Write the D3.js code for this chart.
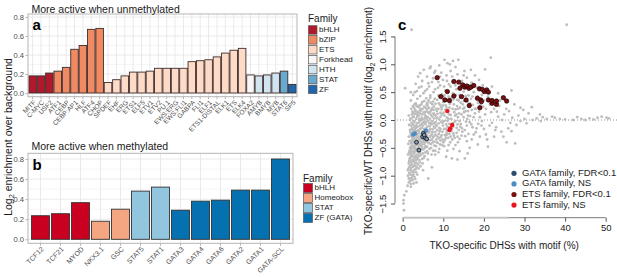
<!DOCTYPE html>
<html><head><meta charset="utf-8">
<script src="https://cdn.jsdelivr.net/npm/d3@7/dist/d3.min.js"></script>
<style>body{margin:0;background:#fff}svg{display:block;font-family:"Liberation Sans",Arial,sans-serif}</style>
</head><body><svg id="c" width="617" height="277"></svg>
<script>
// ---------- DATA ----------
const catsA = ["MITF","C-MYC","USF2","ATF1","CEBP","CEBP:AP1","HLF","ATF4","CHOP","SPDEF","EHF","ERG","ETS1","ELF5","ETV1","ETV2","PU.1","EWS:ERG","EWS:FLI1","GABPA","FLI1","ELF1","ETS1-DISTAL","ELK1","ETS","ELK4","FOXA2","AMYB","BMYB","MYB","STAT6","SP5"];
const valsA = [0.18,0.18,0.21,0.23,0.27,0.46,0.50,0.67,0.68,0.11,0.14,0.18,0.22,0.22,0.23,0.26,0.26,0.26,0.26,0.33,0.34,0.35,0.38,0.42,0.45,0.47,0.19,0.18,0.19,0.21,0.23,0.09];
const famA = ["bHLH","bHLH","bHLH","bZIP","bZIP","bZIP","bZIP","bZIP","bZIP","ETS","ETS","ETS","ETS","ETS","ETS","ETS","ETS","ETS","ETS","ETS","ETS","ETS","ETS","ETS","ETS","ETS","Forkhead","HTH","HTH","HTH","STAT","ZF"];
const familiesA = ["bHLH","bZIP","ETS","Forkhead","HTH","STAT","ZF"];
const coloursA = ["#b2182b","#ef8a62","#fddbc7","#f7f7f7","#d1e5f0","#67a9cf","#2166ac"];

const catsB = ["TCF12","TCF21","MYOD","NKX3.1","GSC","STAT5","STAT1","GATA3","GATA4","GATA6","GATA2","GATA1","GATA-SCL"];
const valsB = [0.235,0.255,0.365,0.18,0.30,0.48,0.52,0.29,0.38,0.39,0.49,0.49,0.80];
const famB = ["bHLH","bHLH","bHLH","Homeobox","Homeobox","STAT","STAT","ZF (GATA)","ZF (GATA)","ZF (GATA)","ZF (GATA)","ZF (GATA)","ZF (GATA)"];
const familiesB = ["bHLH","Homeobox","STAT","ZF (GATA)"];
const coloursB = ["#ca0020","#f4a582","#92c5de","#0571b0"];

const barTicks = [0,0.2,0.4,0.6,0.8];
const scatterXTicks = [0,10,20,30,40,50];
const scatterYTicks = [-1.5,-1,-0.5,0,0.5,1,1.5];

const grayPts = [
[0.3,-1.62],[0.2,-1.50],[0.2,-1.44],[0.4,-1.35],[0.9,-1.28],
[1.2,-1.18],[1.5,-1.12],[2.0,-1.15],[1.8,-1.05],[2.4,-1.08],[2.9,-1.02],[1.3,-1.0],[6.3,-1.05],[3.4,-1.12],[2.6,-0.98],
[1.6,-0.95],[2.2,-0.93],[2.8,-0.9],[3.3,-0.94],[3.9,-0.87],[1.4,-0.88],[2.5,-0.84],[3.1,-0.82],[4.4,-0.83],[1.9,-0.81],[5.0,-0.9],[7.2,-0.85],
[1.5,-0.78],[2.1,-0.76],[2.7,-0.74],[3.4,-0.77],[4.1,-0.72],[4.8,-0.7],[1.8,-0.68],[2.4,-0.66],[3.0,-0.64],[3.7,-0.67],[4.5,-0.63],[5.4,-0.65],[6.2,-0.71],[10.7,-0.66],[12.1,-0.69],[13.5,-0.71],[15.3,-0.69],[8.0,-0.62],[1.3,-0.62],
[1.6,-0.58],[2.2,-0.56],[2.9,-0.59],[3.5,-0.55],[4.3,-0.57],[5.1,-0.53],[6.0,-0.56],[7.0,-0.5],[2.0,-0.48],[2.6,-0.5],[3.2,-0.46],[3.9,-0.48],[4.7,-0.44],[5.6,-0.47],[6.5,-0.42],[7.8,-0.46],[9.0,-0.52],[11.7,-0.40],[13.0,-0.45],[16.5,-0.50],[1.4,-0.43],[8.6,-0.41],[10.2,-0.47],[25.6,-0.40],[27.7,-0.42],[18.5,-0.44],[21.0,-0.48],
[1.7,-0.38],[2.3,-0.36],[2.8,-0.33],[3.6,-0.37],[4.4,-0.35],[5.0,-0.38],[6.1,-0.33],[6.8,-0.36],[7.5,-0.31],[8.3,-0.35],[9.4,-0.3],[10.3,-0.37],[11.2,-0.32],[12.6,-0.28],[14.0,-0.34],[15.4,-0.29],[17.0,-0.35],[19.0,-0.30],[2.0,-0.26],[2.6,-0.22],[3.3,-0.28],[4.1,-0.24],[4.8,-0.21],[5.5,-0.27],[6.4,-0.23],[7.2,-0.26],[8.0,-0.22],[8.9,-0.25],[9.8,-0.21],[10.8,-0.24],[12.0,-0.2],[13.3,-0.23],[14.7,-0.21],[16.2,-0.25],[18.0,-0.22],[20.5,-0.26],[22.5,-0.3],[24.3,-0.21],[1.5,-0.3],
[1.8,-0.18],[2.4,-0.14],[3.0,-0.17],[3.7,-0.12],[4.3,-0.16],[5.0,-0.1],[5.8,-0.15],[6.6,-0.11],[7.4,-0.17],[8.2,-0.09],[9.0,-0.14],[9.9,-0.1],[10.6,-0.16],[11.5,-0.07],[12.4,-0.12],[13.5,-0.08],[14.6,-0.15],[15.8,-0.1],[17.2,-0.13],[18.6,-0.07],[20.0,-0.16],[21.4,-0.1],[23.0,-0.13],[26.0,-0.15],[28.0,-0.09],[30.5,-0.06],[2.2,-0.05],[2.9,-0.03],[3.5,-0.06],[4.2,-0.02],[4.9,-0.05],[5.7,-0.03],[6.5,-0.06],[7.3,-0.02],[8.1,-0.04],[9.5,-0.03],[11.0,-0.02],[12.8,-0.03],[16.5,-0.04],[19.5,-0.02],[1.6,-0.09],
[2.0,0.03],[2.7,0.06],[3.3,0.02],[4.0,0.08],[4.7,0.04],[5.4,0.1],[6.2,0.05],[7.0,0.09],[7.8,0.03],[8.6,0.11],[9.3,0.06],[10.1,0.13],[10.9,0.04],[11.8,0.09],[12.7,0.14],[13.6,0.05],[14.5,0.1],[15.5,0.16],[16.6,0.07],[17.8,0.12],[19.0,0.05],[20.3,0.1],[21.8,0.14],[23.5,0.06],[25.0,0.1],[27.0,0.04],[29.7,0.18],[31.8,0.23],[33.0,0.03],[34.5,0.05],[35.5,0.02],[36.8,0.06],[38.7,0.02],[42.0,0.0],[44.0,0.02],[46.0,0.03],[48.0,0.04],[50.2,0.04],[50.8,0.03],[2.4,0.15],[3.1,0.18],[3.8,0.13],[4.5,0.17],[5.2,0.14],[6.0,0.19],[6.8,0.15],[7.6,0.18],[8.4,0.16],[9.6,0.19],[1.5,0.08],[31.0,0.12],[33.8,0.1],[40.0,0.01],[26.2,0.16],
[2.5,0.25],[3.2,0.3],[3.9,0.23],[4.6,0.28],[5.3,0.34],[6.1,0.26],[6.9,0.31],[7.7,0.24],[8.5,0.36],[9.2,0.27],[10.0,0.32],[10.8,0.22],[11.6,0.29],[12.5,0.37],[13.4,0.25],[14.3,0.31],[15.2,0.22],[16.0,0.33],[17.3,0.27],[18.5,0.31],[19.8,0.24],[21.5,0.28],[23.8,0.25],[2.0,0.35],[3.6,0.38],[5.8,0.39],[7.2,0.21],[9.9,0.38],[29.0,0.22],
[2.6,0.45],[3.5,0.52],[4.3,0.43],[5.1,0.48],[6.0,0.55],[6.8,0.44],[7.6,0.5],[8.7,0.58],[9.6,0.46],[10.5,0.53],[11.3,0.42],[12.4,0.48],[13.2,0.55],[14.0,0.45],[15.0,0.51],[16.2,0.44],[17.5,0.5],[19.5,0.45],[21.0,0.42],[0.6,0.57],[26.8,0.53],[2.0,0.5],[4.0,0.58],
[3.2,0.65],[4.8,0.7],[6.3,0.66],[7.5,0.75],[8.8,0.68],[9.9,0.72],[11.4,0.64],[12.2,0.78],[13.0,0.62],[14.6,0.7],[15.8,0.76],[17.0,0.67],[18.8,0.72],[3.8,0.78],[10.8,0.8],
[4.3,0.84],[6.7,0.93],[6.9,0.96],[8.0,0.88],[11.0,1.02],[11.6,1.0],[12.4,1.06],[13.7,1.08],[20.3,0.91],[21.7,1.12],[9.5,0.85],[15.2,0.88],[2.2,1.62],[40.4,1.71],
[2.1,-0.42],[2.5,-0.4],[3.0,-0.42],[3.4,-0.32],[3.8,-0.41],[4.6,-0.4],[5.3,-0.43],[5.9,-0.39],[2.2,-0.3],[2.7,-0.28],[3.1,-0.24],[3.9,-0.3],[4.5,-0.29],[5.2,-0.31],[5.8,-0.22],[6.9,-0.28],[7.7,-0.39],[2.5,-0.18],[3.3,-0.1],[4.0,-0.2],[4.6,-0.08],[5.4,-0.19],[6.2,-0.19],[6.9,-0.05],[7.7,-0.12],[8.5,-0.18],[2.3,0.1],[3.0,0.11],[3.6,0.06],[4.3,0.12],[5.0,0.01],[5.7,0.07],[6.5,0.12],[7.3,0.06],[8.1,0.08],[9.0,0.01],[2.8,0.22],[4.2,0.26],[5.6,0.22],[6.4,0.35],[8.1,0.29],[9.5,0.23],[11.2,0.17],[12.0,0.02],[13.0,0.19],[14.0,-0.02],[15.0,0.05],[11.0,-0.12],[12.0,-0.17],[13.8,-0.18],[10.4,-0.27],[1.9,-0.6],[2.4,-0.62],[3.1,-0.55],[3.6,-0.62],[4.0,-0.52],[2.2,-0.72],[2.9,-0.69],[3.3,-0.72],[1.8,-0.5],[1.9,-0.38],[2.1,-0.86],[2.5,-1.0],[3.0,-0.77],[4.0,-0.65],[5.0,-0.6],[6.0,-0.48],[7.0,-0.43],[8.0,-0.55],[9.7,-0.45],[11.0,-0.55],[12.5,-0.52],[14.0,-0.56],[16.0,-0.6],[10.0,0.42],[11.8,0.6],[13.8,0.35],[16.8,0.38],[18.0,0.2],[20.0,0.35],[22.5,0.2],[24.5,0.0],[26.5,-0.05],[28.5,0.08],[30.0,0.02],[32.0,0.0],
[1.7,-0.7],[2.0,-0.64],[2.3,-0.8],[2.6,-0.58],[2.8,-0.82],[3.2,-0.66],[3.5,-0.85],[3.8,-0.58],[4.2,-0.76],[4.6,-0.52],[5.2,-0.68],[5.6,-0.58],
[1.7,-0.55],[2.1,-0.52],[2.4,-0.46],[2.7,-0.39],[3.0,-0.5],[3.3,-0.36],[3.7,-0.44],[4.1,-0.38],[4.4,-0.46],[4.9,-0.34],[5.4,-0.36],[5.7,-0.3],
[1.9,-0.22],[2.2,-0.16],[2.6,-0.08],[2.9,-0.12],[3.2,-0.2],[3.6,-0.26],[3.9,-0.05],[4.3,-0.1],[4.7,-0.14],[5.1,-0.22],[5.6,-0.07],[6.0,-0.12],
[1.8,0.0],[2.1,0.2],[2.6,0.12],[2.9,0.28],[3.4,0.15],[3.7,0.24],[4.1,0.02],[4.4,0.2],[4.8,0.1],[5.3,0.24],[5.7,0.15],[6.1,0.31],
[6.2,-0.6],[6.6,-0.52],[7.1,-0.62],[7.5,-0.55],[8.2,-0.47],[8.8,-0.58],[9.3,-0.37],[10.0,-0.4],[10.6,-0.33],[11.3,-0.45],[11.8,-0.3],
[6.3,-0.41],[6.7,-0.3],[7.2,-0.35],[7.9,-0.28],[8.6,-0.3],[9.1,-0.2],[9.6,-0.27],[10.2,-0.16],[10.9,-0.2],[11.5,-0.25],[12.2,-0.35],
[6.3,-0.02],[6.7,0.02],[7.1,-0.08],[7.6,0.12],[8.0,-0.14],[8.5,0.04],[8.9,-0.06],[9.3,0.13],[9.8,-0.05],[10.3,0.08],[10.7,-0.08],[11.3,0.02],[11.8,-0.14],
[6.4,0.22],[6.8,0.4],[7.3,0.28],[7.9,0.38],[8.3,0.2],[8.9,0.3],[9.4,0.42],[9.9,0.26],[10.5,0.18],[10.9,0.36],[11.5,0.22],[12.0,0.4],
[12.3,-0.06],[12.9,0.08],[13.3,-0.14],[13.9,0.12],[14.3,-0.07],[14.9,0.2],[15.3,-0.18],[15.9,0.02],[16.3,0.24],[16.9,-0.08],[17.5,0.05],[18.2,-0.15],[18.8,0.15],[19.4,-0.1],
[12.6,0.28],[13.1,0.45],[13.6,0.2],[14.1,0.4],[14.8,0.28],[15.5,0.43],[16.1,0.16],[16.6,0.3],[17.2,0.42],[17.8,0.2],[18.4,0.42],[19.2,0.28],[20.5,0.2],
[12.8,-0.32],[13.6,-0.4],[14.5,-0.28],[15.8,-0.38],[17.5,-0.26],
[3.0,0.5],[4.6,0.6],[5.5,0.52],[6.5,0.6],[7.2,0.68],[8.0,0.55],[9.2,0.62],[10.2,0.6],[10.9,0.7],[12.8,0.7],[14.2,0.6],[16.5,0.62],[18.3,0.58],[6.0,0.78],[7.8,0.85],[9.2,0.78],[11.8,0.88],[13.5,0.82],[15.0,0.8],[16.8,0.9],[5.2,0.9],[9.0,0.98],[10.3,1.08],[13.0,0.95],[17.8,0.8],[19.7,0.62],[22.0,0.6],[23.5,0.48],
[1.3,-0.9],[1.6,-0.84],[1.9,-0.98],[2.3,-1.0],[2.7,-0.94],[3.1,-1.06],[1.5,-1.05],[2.0,-1.2],[2.7,-1.14],[3.6,-0.98],
[22.0,-0.05],[23.2,0.15],[24.0,0.35],[25.5,0.2],[27.5,0.28],[29.0,-0.02],[20.8,-0.35],[22.8,-0.18],[24.8,-0.3],[26.8,-0.2],[34.0,-0.02],[37.5,0.04],[43.0,0.05],[45.0,0.0],[47.0,0.01],[49.0,0.06],
[2.3,-0.5],[2.8,-0.46],[3.4,-0.52],[4.2,-0.44],[4.8,-0.48],[5.5,-0.4],[6.4,-0.36],[7.4,-0.4],[8.4,-0.4],[9.2,-0.44],
[2.4,-0.32],[3.0,-0.36],[3.5,-0.2],[4.0,-0.34],[4.7,-0.26],[5.3,-0.16],[6.0,-0.28],[6.6,-0.2],[7.3,-0.22],[8.2,-0.27],[9.0,-0.33],[9.8,-0.35],[10.6,-0.28],[11.4,-0.18],[12.5,-0.24],[13.5,-0.3],
[2.1,-0.1],[2.7,-0.02],[3.3,-0.14],[3.9,-0.18],[4.5,0.0],[5.2,-0.04],[5.9,0.02],[6.8,-0.16],[7.6,-0.06],[8.4,-0.1],[9.3,-0.16],[10.2,-0.02],[10.9,-0.26],[12.0,-0.08],[13.0,-0.02],[14.2,-0.12],[15.6,-0.03],
[2.5,0.05],[3.0,0.16],[3.5,0.1],[4.2,0.17],[4.9,0.2],[5.5,0.04],[6.3,0.14],[7.0,0.18],[7.8,0.1],[8.8,0.2],[9.7,0.1],[10.6,0.26],[11.4,0.1],[12.3,0.2],[13.2,0.1],[14.1,0.22],[15.1,0.14],[16.1,0.08],
[3.4,0.26],[4.8,0.32],[5.9,0.28],[7.5,0.33],[8.8,0.44],[10.3,0.44],[11.9,0.32],[13.4,0.36],[15.0,0.34],[17.0,0.18],
[1.6,-0.74],[2.0,-0.9],[2.5,-0.72],[2.8,-0.55],[3.2,-0.88],[3.6,-0.7],[4.3,-0.6],[4.9,-0.78],[5.5,-0.5],[1.8,-1.1],[2.3,-1.05],[3.8,-0.8]
];
const etsSig = [[8.5,0.76],[12.6,0.69],[11.0,0.51],[9.4,0.42],[10.4,0.36],[11.5,0.35],[12.6,0.43],[13.8,0.68],[14.1,0.57],[14.5,0.42],[14.8,0.63],[15.3,0.59],[15.8,0.61],[16.3,0.57],[16.8,0.59],[17.5,0.62],[15.6,0.36],[16.4,0.26],[18.4,0.39],[18.9,0.56],[19.0,0.22],[19.2,0.36],[19.6,0.55],[20.1,0.51],[20.7,0.54],[21.1,0.50],[21.1,0.36],[22.0,0.30],[22.0,0.35],[23.1,0.28],[23.1,0.34],[24.8,0.40],[25.6,0.34],[19.4,0.33]];
const etsNS = [[11.0,0.16],[12.2,-0.09],[11.7,-0.15],[11.5,-0.18]];
const gataNS = [[2.6,-0.26],[3.0,-0.24],[5.7,-0.19]];
const gataSig = [[5.1,-0.24],[4.9,-0.30],[5.5,-0.32],[5.9,-0.34],[3.4,-0.40],[4.0,-0.54],[5.3,-0.27]];
const legendC = ["GATA family, FDR<0.1","GATA family, NS","ETS family, FDR<0.1","ETS family, NS"];
const legendCColours = ["#2e4d6e","#4d8cc4","#7a0f12","#e8161c"];

// ---------- DRAW ----------
const svg = d3.select("#c");
const gridCol = "#e5e5e5", frameCol = "#b5b5b5", tickTxt = "#4d4d4d";

function barPanel(cats, vals, fams, families, colours, x0, x1, yTop, yBot, y0px, y08px, pIn, pOut, labelSize, barStroke){
  const g = svg.append("g");
  const x = d3.scaleBand().domain(cats).range([x0, x1]).paddingInner(pIn).paddingOuter(pOut);
  const y = d3.scaleLinear().domain([0,0.8]).range([y0px, y08px]);
  const col = d3.scaleOrdinal().domain(families).range(colours);
  const minor = [0.1,0.3,0.5,0.7];
  g.selectAll(".mn").data(minor).join("line").attr("x1",x0).attr("x2",x1).attr("y1",d=>y(d)).attr("y2",d=>y(d)).attr("stroke","#f0f0f0").attr("stroke-width",0.6);
  g.selectAll(".mj").data(barTicks).join("line").attr("x1",x0).attr("x2",x1).attr("y1",d=>y(d)).attr("y2",d=>y(d)).attr("stroke",gridCol).attr("stroke-width",0.8);
  g.selectAll(".vg").data(cats).join("line").attr("x1",d=>x(d)+x.bandwidth()/2).attr("x2",d=>x(d)+x.bandwidth()/2).attr("y1",yTop).attr("y2",yBot).attr("stroke",gridCol).attr("stroke-width",0.8);
  g.selectAll(".bar").data(cats).join("rect")
    .attr("x",d=>x(d)).attr("width",x.bandwidth())
    .attr("y",(d,i)=>y(vals[i])).attr("height",(d,i)=>y(0)-y(vals[i]))
    .attr("fill",(d,i)=>col(fams[i])).attr("stroke",barStroke).attr("stroke-width",0.9);
  g.append("rect").attr("x",x0).attr("y",yTop).attr("width",x1-x0).attr("height",yBot-yTop).attr("fill","none").attr("stroke",frameCol).attr("stroke-width",1);
  const ya = g.append("g").attr("transform",`translate(${x0},0)`).call(d3.axisLeft(y).tickValues(barTicks).tickFormat(d3.format(".1f")).tickSize(2.5).tickPadding(1.5));
  ya.select(".domain").remove();
  ya.selectAll("line").attr("stroke",frameCol);
  ya.selectAll("text").attr("fill",tickTxt).style("font-size","7.6px");
  const xa = g.append("g").attr("transform",`translate(0,${yBot})`).call(d3.axisBottom(x).tickSize(2.5).tickSizeOuter(0));
  xa.select(".domain").remove();
  xa.selectAll("line").attr("stroke",frameCol);
  xa.selectAll("text").attr("fill",tickTxt).style("font-size",labelSize+"px")
    .attr("text-anchor","end").attr("y",0).attr("dy",0)
    .attr("transform",`translate(2.5,5) rotate(-45)`).attr("dominant-baseline","middle");
  return {x,y,col};
}

// panel a
barPanel(catsA, valsA, famA, familiesA, coloursA, 28, 297, 14, 96.7, 93, 17, 0.1, 0.1, 6.6, "#3e2c2c");
svg.append("text").attr("x",31.5).attr("y",13).text("More active when unmethylated").style("font-size","10.5px").attr("fill","#1a1a1a");
svg.append("text").attr("x",32.5).attr("y",30).text("a").style("font-size","15px").style("font-weight","bold");

const legA = svg.append("g");
legA.append("text").attr("x",308).attr("y",22).text("Family").style("font-size","10px").attr("fill","#1a1a1a");
legA.selectAll("rect").data(familiesA).join("rect").attr("x",308.5).attr("y",(d,i)=>25.7+i*9.9).attr("width",8.5).attr("height",8.5)
  .attr("fill",(d,i)=>coloursA[i]).attr("stroke","#555").attr("stroke-width",0.7);
legA.selectAll("text.l").data(familiesA).join("text").attr("class","l").attr("x",319).attr("y",(d,i)=>30+i*9.9).attr("dominant-baseline","middle")
  .text(d=>d).style("font-size","8px").attr("fill","#1a1a1a");

// panel b
barPanel(catsB, valsB, famB, familiesB, coloursB, 28, 293, 153.3, 243.3, 239.3, 159, 0.1, 0.175, 7, "#333");
svg.append("text").attr("x",31.5).attr("y",150).text("More active when methylated").style("font-size","10.5px").attr("fill","#1a1a1a");
svg.append("text").attr("x",32.5).attr("y",170).text("b").style("font-size","15px").style("font-weight","bold");

const legB = svg.append("g");
legB.append("text").attr("x",303).attr("y",181.5).text("Family").style("font-size","10px").attr("fill","#1a1a1a");
legB.selectAll("rect").data(familiesB).join("rect").attr("x",303.5).attr("y",(d,i)=>183.5+i*10).attr("width",9).attr("height",9)
  .attr("fill",(d,i)=>coloursB[i]).attr("stroke","#555").attr("stroke-width",0.7);
legB.selectAll("text.l").data(familiesB).join("text").attr("class","l").attr("x",314.5).attr("y",(d,i)=>188.3+i*10).attr("dominant-baseline","middle")
  .text(d=>d).style("font-size","8px").attr("fill","#1a1a1a");

svg.append("text").attr("transform","translate(11.5,137) rotate(-90)").attr("text-anchor","middle")
  .style("font-size","10.5px").attr("fill","#1a1a1a")
  .html('Log<tspan dy="2.5" font-size="7.5px">2</tspan><tspan dy="-2.5"> enrichment over background</tspan>');

// ---------- panel c ----------
const xC = d3.scaleLinear().domain([0,50]).range([402.7,605.7]);
const yC = d3.scaleLinear().domain([0,1]).range([120,64.3]);
const gc = svg.append("g");
gc.append("line").attr("x1",397).attr("x2",617).attr("y1",yC(0)).attr("y2",yC(0)).attr("stroke","#777").attr("stroke-width",0.8).attr("stroke-dasharray","1,2");
gc.selectAll(".gp").data(grayPts).join("circle").attr("cx",d=>xC(d[0])).attr("cy",d=>yC(d[1])).attr("r",1.4).attr("fill","#bdbdbd");
gc.selectAll(".ens").data(etsNS).join("circle").attr("cx",d=>xC(d[0])).attr("cy",d=>yC(d[1])).attr("r",2.2).attr("fill",legendCColours[3]);
gc.selectAll(".gns").data(gataNS).join("circle").attr("cx",d=>xC(d[0])).attr("cy",d=>yC(d[1])).attr("r",2.2).attr("fill",legendCColours[1]);
gc.selectAll(".gs").data(gataSig).join("circle").attr("cx",d=>xC(d[0])).attr("cy",d=>yC(d[1])).attr("r",1.9).attr("fill","#8a9cae").attr("stroke","#0d1a26").attr("stroke-width",0.9);
gc.selectAll(".es").data(etsSig).join("circle").attr("cx",d=>xC(d[0])).attr("cy",d=>yC(d[1])).attr("r",2.2).attr("fill",legendCColours[2]).attr("stroke","#1a0000").attr("stroke-width",0.7);

const xaC = gc.append("g").attr("transform","translate(0,217.7)").call(d3.axisBottom(xC).tickValues(scatterXTicks).tickSize(4).tickSizeOuter(0).tickPadding(3));
xaC.select(".domain").remove();
xaC.selectAll("line").attr("stroke","#555");
xaC.selectAll("text").style("font-size","9.5px").attr("fill","#222");
gc.append("line").attr("x1",xC(0)).attr("x2",xC(50)).attr("y1",217.7).attr("y2",217.7).attr("stroke","#555").attr("stroke-width",0.8);
gc.append("line").attr("x1",xC(0)).attr("x2",xC(26)).attr("y1",217.7).attr("y2",217.7).attr("stroke","#c4c4c4").attr("stroke-width",1.8);

const yaC = gc.append("g").attr("transform","translate(395,0)").call(d3.axisLeft(yC).tickValues(scatterYTicks).tickFormat(d3.format(".1f")).tickSize(4).tickSizeOuter(0));
yaC.select(".domain").remove();
yaC.selectAll("line").attr("stroke","#555");
yaC.selectAll("text").style("font-size","9.5px").attr("fill","#222").attr("text-anchor","middle")
  .attr("x",0).attr("dy",0).attr("transform","translate(-9.5,0) rotate(-90)");
gc.append("line").attr("x1",395).attr("x2",395).attr("y1",yC(1.5)).attr("y2",yC(-1.5)).attr("stroke","#555").attr("stroke-width",0.8);

svg.append("text").attr("x",xC(25)).attr("y",249).attr("text-anchor","middle").style("font-size","10px").attr("fill","#222").text("TKO-specific DHSs with motif (%)");
svg.append("text").attr("transform","translate(372,121) rotate(-90)").attr("text-anchor","middle").style("font-size","10px").attr("fill","#222")
  .html('TKO-specific/WT DHSs with motif (log<tspan dy="2.5" font-size="7px">2</tspan><tspan dy="-2.5"> enrichment)</tspan>');
svg.append("text").attr("x",398).attr("y",30).text("c").style("font-size","15px").style("font-weight","bold");

const lc = svg.append("g");
lc.selectAll("circle").data(legendC).join("circle").attr("cx",514).attr("cy",(d,i)=>173.3+i*10.6).attr("r",2.6).attr("fill",(d,i)=>legendCColours[i]);
lc.selectAll("text").data(legendC).join("text").attr("x",522).attr("y",(d,i)=>173.3+i*10.6).attr("dominant-baseline","middle")
  .text(d=>d).style("font-size","9.5px").attr("fill","#222");
</script></body></html>
